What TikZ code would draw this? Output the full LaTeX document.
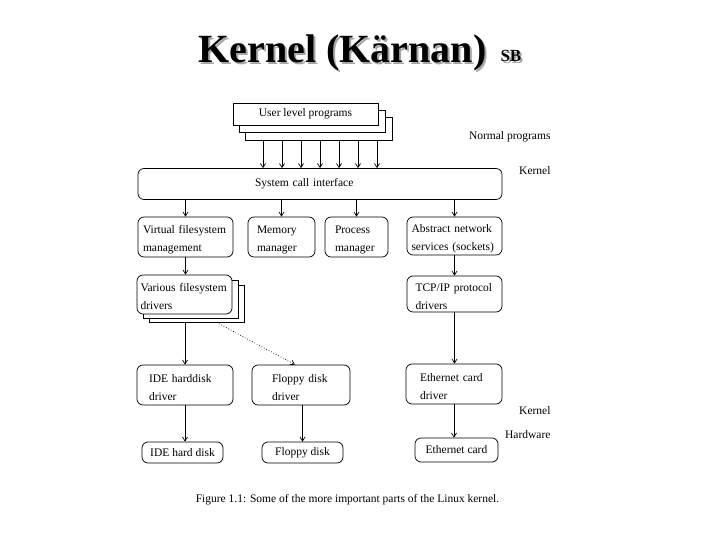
\documentclass[tikz,border=0pt]{standalone}
\usepackage{fontspec}
\setmainfont{Liberation Serif}
\usetikzlibrary{arrows.meta}
\newcommand\shadowtext[1]{\rlap{\hspace{2bp}\raisebox{-2bp}{\color{black!35}#1}}#1}
\tikzset{
      box/.style = { draw, rounded corners=6bp, inner xsep=0pt, inner ysep=0pt, align=left, line width=.7bp },
     box2/.style = { box, execute at begin node={\rule{0pt}{13bp}} },
    paper/.style = { draw, fill=white, inner sep=0pt, line width=.7bp },
      arr/.style = { -{Straight Barb[length=4bp,width=5bp]}, line width=.7bp },
     side/.style = { anchor=east },
    title/.style = { anchor=base, font=\fontsize{40bp}{48bp}\selectfont\bfseries },
  titlesb/.style = { anchor=base west, font=\fontsize{17bp}{20bp}\selectfont\bfseries }
}

\begin{document}
\begin{tikzpicture}[x=1bp, y=-1bp, font=\fontsize{11.5bp}{18bp}\selectfont]
  \useasboundingbox (0,0) rectangle (720,540);

  % title with shadow
  \node[title] (title) at (342.5,63) {\shadowtext{Kernel (Kärnan)}};
  \node[titlesb] (sb) at (497,62) {\shadowtext{SB}};

  % user level programs
  \node[paper, minimum width=147bp, minimum height=23bp] (ulp3) at (318.5,128.5) {};
  \node[paper, minimum width=146bp, minimum height=22bp] (ulp2) at (312,121) {};
  \node[paper, minimum width=145bp, minimum height=22bp] (ulp) at (305.5,114) {User level programs};

  \node[side] (normal) at (554,137) {Normal programs};
  \node[side] (kernel1) at (554,171) {Kernel};

  % system call interface
  \node[box, minimum width=364bp, minimum height=31bp, text width=130bp] (sci) at (320,184) {System call interface};

  % second row
  \node[box2, minimum width=95bp, minimum height=40bp, text width=85bp] (vfs) at (185.5,237) {Virtual filesystem\\management};
  \node[box2, minimum width=67bp, minimum height=40bp, text width=49bp] (mem) at (281.5,237) {Memory\\manager};
  \node[box2, minimum width=63bp, minimum height=40bp, text width=43bp] (proc) at (356.5,237) {Process\\manager};
  \node[box2, minimum width=95bp, minimum height=38bp, text width=86bp] (ans) at (454.5,236) {Abstract network\\services (sockets)};

  % filesystem drivers and protocol drivers
  \node[paper, minimum width=95bp, minimum height=37bp] (vfd3) at (196.5,303.5) {};
  \node[paper, minimum width=95bp, minimum height=38bp] (vfd2) at (190.5,299) {};
  \node[box2, fill=white, minimum width=95bp, minimum height=39bp, text width=88bp] (vfd) at (184.5,294.5) {Various filesystem\\drivers};
  \node[box2, minimum width=95bp, minimum height=36bp, text width=78bp] (tcp) at (454.5,294) {TCP/IP protocol\\drivers};

  % device drivers
  \node[box2, minimum width=96bp, minimum height=40bp, text width=72bp] (ided) at (185,385) {IDE harddisk\\driver};
  \node[box2, minimum width=98bp, minimum height=40bp, text width=58bp] (fdd) at (301,385) {Floppy disk\\driver};
  \node[box2, minimum width=96bp, minimum height=40bp, text width=68bp] (ethd) at (454,384) {Ethernet card\\driver};

  \node[side] (kernel2) at (554,411) {Kernel};
  \node[side] (hardware) at (554,435) {Hardware};

  % hardware
  \node[box, align=center, minimum width=81bp, minimum height=21bp] (idek) at (182.5,452.5) {IDE hard disk};
  \node[box, align=center, minimum width=81bp, minimum height=21bp] (fdk) at (302.5,452.5) {Floppy disk};
  \node[box, align=center, minimum width=83bp, minimum height=24bp] (ethk) at (456.5,450) {Ethernet card};

  % connectors
  \foreach \x in {263,282,...,377} {
    \coordinate (c) at (\x,0);
    \draw[arr] (ulp3.south -| c) -- (sci.north -| c);
  }
  \foreach \n in {vfs,mem,proc,ans}
    \draw[arr] (sci.south -| \n.north) -- (\n.north);
  \draw[arr] (ans.south) -- (ans.south |- tcp.north);
  \draw[arr] (tcp.south) -- (tcp.south |- ethd.north);
  \draw[arr] (vfs.south) -- (vfs.south |- vfd.north);
  \draw[arr] (vfd3.south -| ided.north) -- (ided.north);
  \draw[arr, dotted] ([xshift=20bp]vfd3.south) -- ([xshift=-6bp]fdd.north);
  \draw[arr] (ided.south) -- (ided.south |- idek.north);
  \draw[arr] (fdd.south -| fdk.north) -- (fdk.north);
  \draw[arr] (ethd.south) -- (ethd.south |- ethk.north);

  \node (caption) at (347.5,500) {Figure 1.1: Some of the more important parts of the Linux kernel.};
\end{tikzpicture}
\end{document}
